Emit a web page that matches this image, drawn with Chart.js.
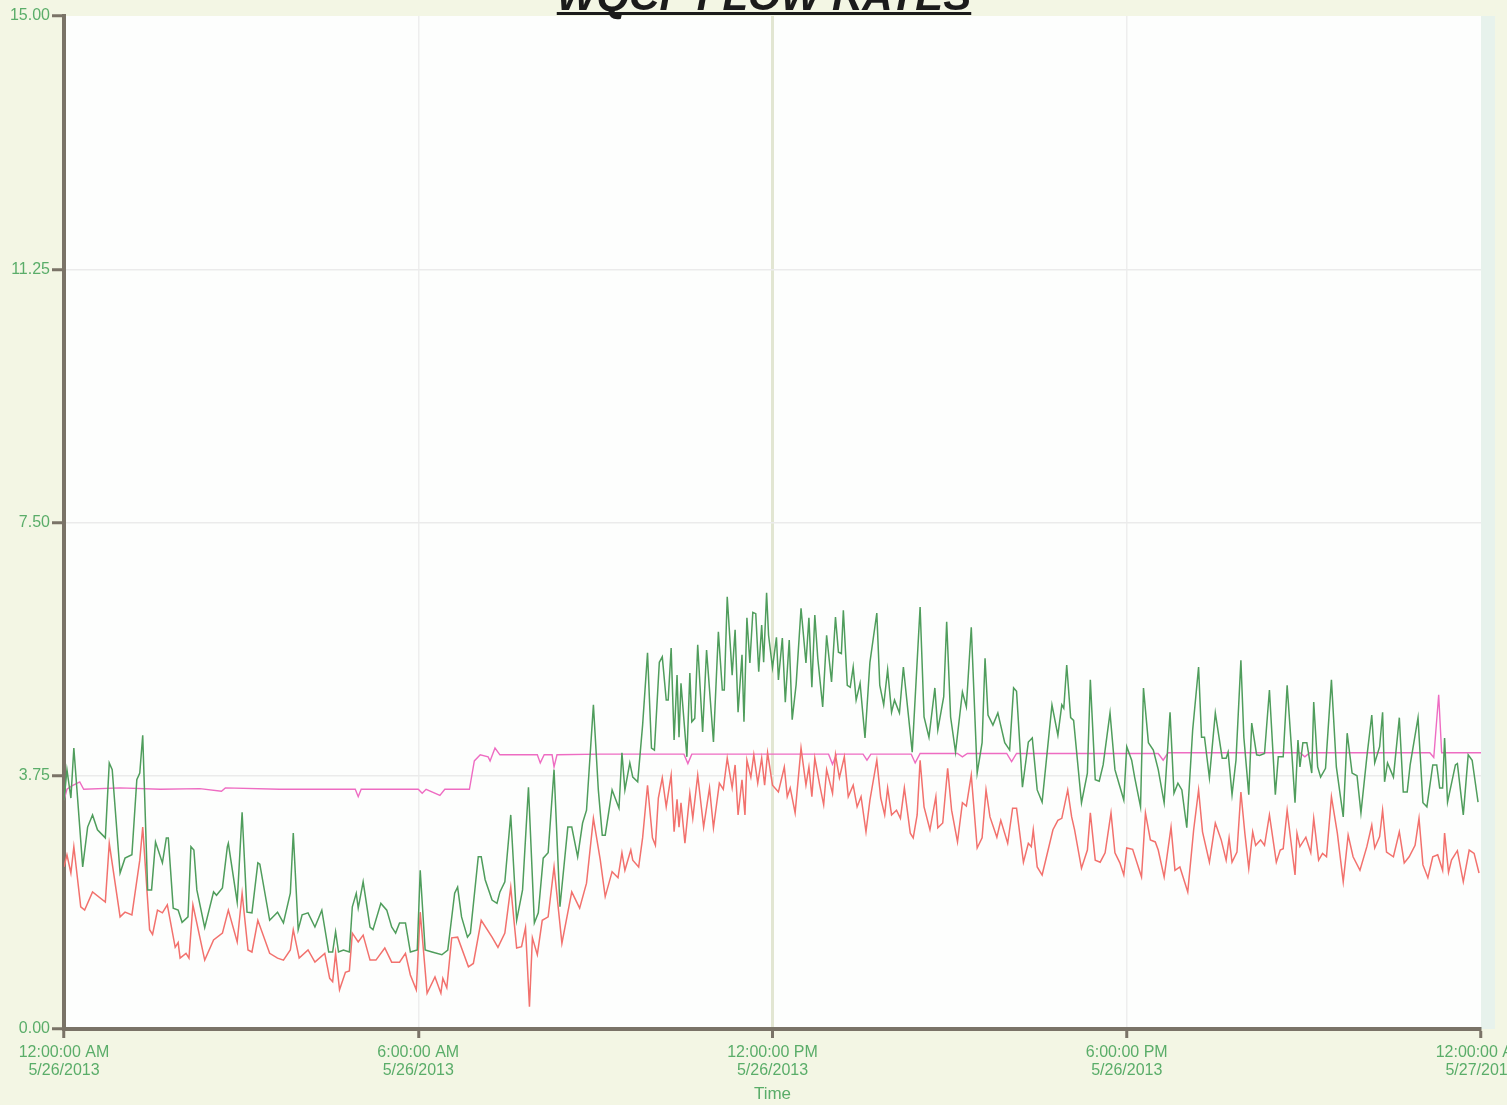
<!DOCTYPE html>
<html>
<head>
<meta charset="utf-8">
<title>WQCF Flow Rates</title>
<script src="https://cdn.jsdelivr.net/npm/chart.js@4.4.1/dist/chart.umd.min.js"></script>
<style>
  html, body { margin: 0; padding: 0; background: #f3f6e4; }
  canvas { display: block; }
</style>
</head>
<body>
<canvas id="flowChart" width="1507" height="1105"></canvas>
<script>
// Chart text
const chartTitle = 'WQCF FLOW RATES';
const xAxisTitle = 'Time';
const xTickTimes = ['12:00:00 AM', '6:00:00 AM', '12:00:00 PM', '6:00:00 PM', '12:00:00 AM'];
const xTickDates = ['5/26/2013', '5/26/2013', '5/26/2013', '5/26/2013', '5/27/2013'];
const yMax = 15;
const yStep = 3.75;

// Green trace: minutes after midnight / flow
const greenMinutes = [
  0, 3, 7, 10, 19, 24, 29, 34, 42, 46,
  49, 57, 62, 69, 74, 77, 80, 85, 89, 93,
  100, 104, 106, 111, 116, 120, 126, 129, 132, 135,
  143, 152, 155, 161, 166, 167, 176, 181, 186, 191,
  197, 199, 209, 217, 223, 230, 233, 238, 242, 248,
  255, 262, 269, 273, 276, 279, 284, 290, 293, 297,
  299, 304, 311, 314, 322, 328, 333, 337, 341, 347,
  352, 359, 362, 367, 374, 384, 390, 397, 400, 404,
  410, 413, 421, 424, 428, 435, 440, 443, 448, 454,
  460, 466, 472, 478, 482, 487, 492, 498, 504, 512,
  516, 522, 527, 531, 538, 543, 547, 550, 557, 564,
  567, 570, 575, 578, 583, 588, 593, 597, 600, 605,
  608, 612, 614, 617, 620, 623, 625, 627, 633, 636,
  638, 641, 644, 649, 653, 660, 665, 669, 671, 674,
  679, 682, 685, 689, 691, 694, 697, 700, 703, 706,
  709, 711, 714, 716, 720, 724, 726, 730, 733, 737,
  740, 744, 749, 754, 757, 760, 763, 766, 771, 775,
  780, 784, 787, 790, 792, 796, 799, 802, 805, 809,
  814, 819, 826, 829, 833, 837, 841, 844, 849, 853,
  862, 870, 874, 879, 885, 888, 894, 897, 901, 906,
  913, 917, 922, 928, 933, 936, 939, 944, 949, 956,
  961, 965, 968, 974, 980, 984, 989, 994, 1004, 1010,
  1014, 1016, 1019, 1023, 1026, 1034, 1040, 1043, 1048, 1052,
  1056, 1063, 1068, 1072, 1077, 1080, 1085, 1088, 1094, 1097,
  1102, 1107, 1112, 1118, 1124, 1128, 1132, 1136, 1141, 1147,
  1153, 1156, 1159, 1164, 1170, 1177, 1181, 1183, 1187, 1191,
  1196, 1199, 1204, 1207, 1212, 1215, 1220, 1225, 1231, 1234,
  1239, 1243, 1248, 1251, 1254, 1256, 1259, 1263, 1268, 1270,
  1274, 1277, 1282, 1288, 1293, 1300, 1304, 1309, 1314, 1318,
  1324, 1329, 1332, 1337, 1340, 1342, 1345, 1351, 1357, 1361,
  1365, 1368, 1376, 1381, 1385, 1391, 1395, 1398, 1401, 1403,
  1406, 1414, 1416, 1422, 1427, 1431, 1437
];
const greenFlow = [
  3.39, 3.84, 3.42, 4.16, 2.40, 2.99, 3.17, 2.95, 2.83, 3.94,
  3.84, 2.31, 2.53, 2.58, 3.69, 3.79, 4.35, 2.06, 2.06, 2.77,
  2.46, 2.83, 2.83, 1.79, 1.76, 1.58, 1.66, 2.70, 2.65, 2.06,
  1.50, 2.03, 1.98, 2.09, 2.70, 2.75, 1.88, 3.21, 1.73, 1.72,
  2.46, 2.44, 1.61, 1.73, 1.57, 2.01, 2.90, 1.47, 1.69, 1.72,
  1.51, 1.76, 1.14, 1.14, 1.44, 1.14, 1.17, 1.14, 1.81, 2.01,
  1.79, 2.18, 1.51, 1.47, 1.86, 1.76, 1.51, 1.42, 1.57, 1.57,
  1.14, 1.17, 2.35, 1.17, 1.14, 1.10, 1.17, 2.01, 2.10, 1.66,
  1.36, 1.42, 2.55, 2.55, 2.21, 1.91, 1.86, 2.03, 2.18, 3.17,
  1.61, 2.06, 3.58, 1.57, 1.72, 2.53, 2.61, 3.84, 1.81, 2.99,
  2.99, 2.55, 3.05, 3.24, 4.80, 3.54, 2.87, 2.87, 3.54, 3.27,
  4.09, 3.54, 3.94, 3.73, 3.66, 4.50, 5.57, 4.16, 4.13, 5.43,
  5.51, 4.87, 4.87, 5.64, 4.28, 5.24, 4.32, 5.12, 4.03, 5.27,
  4.55, 4.60, 5.69, 4.40, 5.61, 4.25, 5.88, 5.02, 5.02, 6.40,
  5.24, 5.91, 4.69, 5.54, 4.55, 6.09, 5.42, 6.17, 6.15, 5.29,
  5.98, 5.43, 6.46, 5.83, 5.35, 5.80, 5.17, 5.79, 4.84, 5.76,
  4.58, 5.10, 6.23, 5.42, 6.09, 5.06, 6.13, 5.49, 4.77, 5.83,
  5.14, 6.10, 5.58, 5.56, 6.20, 5.09, 5.06, 5.36, 4.87, 5.12,
  4.31, 5.43, 6.16, 5.09, 4.80, 5.32, 4.69, 4.87, 4.68, 5.36,
  4.10, 6.25, 4.62, 4.32, 5.05, 4.43, 4.92, 6.03, 4.62, 4.10,
  4.99, 4.77, 5.95, 3.79, 4.24, 5.49, 4.65, 4.50, 4.68, 4.24,
  4.13, 5.05, 5.00, 3.58, 4.25, 4.31, 3.54, 3.36, 4.80, 4.35,
  4.80, 4.75, 5.39, 4.61, 4.57, 3.35, 3.79, 5.17, 3.69, 3.67,
  3.91, 4.68, 3.84, 3.64, 3.39, 4.18, 3.98, 3.73, 3.29, 5.05,
  4.24, 4.13, 3.84, 3.35, 4.69, 3.49, 3.64, 3.54, 2.98, 4.43,
  5.36, 4.32, 4.32, 3.72, 4.68, 4.01, 4.01, 4.10, 3.47, 3.98,
  5.46, 4.32, 3.47, 4.53, 4.06, 4.05, 4.08, 5.02, 3.47, 4.03,
  4.03, 5.09, 4.03, 3.35, 4.28, 3.88, 4.24, 4.24, 3.79, 4.84,
  3.88, 3.73, 3.86, 5.17, 3.88, 3.14, 4.38, 3.79, 3.75, 3.20,
  4.03, 4.65, 3.94, 4.18, 4.69, 3.66, 3.94, 3.73, 4.61, 3.51,
  3.51, 3.91, 4.61, 3.35, 3.29, 3.91, 3.91, 3.57, 3.57, 4.31,
  3.36, 3.91, 3.93, 3.17, 4.06, 3.98, 3.36
];

// Red trace
const redMinutes = [
  0, 3, 7, 10, 17, 21, 29, 42, 46, 57,
  62, 69, 77, 80, 87, 90, 95, 100, 105, 113,
  116, 118, 124, 127, 131, 143, 152, 161, 167, 176,
  181, 187, 191, 197, 209, 217, 223, 230, 233, 239,
  248, 255, 265, 270, 273, 276, 280, 286, 290, 293,
  299, 304, 311, 317, 326, 333, 341, 347, 352, 358,
  362, 369, 377, 383, 385, 389, 394, 400, 411, 416,
  424, 435, 441, 448, 454, 460, 465, 469, 473, 476,
  481, 486, 492, 498, 506, 516, 524, 531, 538, 545,
  550, 557, 563, 567, 570, 576, 578, 584, 588, 593,
  598, 601, 604, 608, 612, 617, 620, 623, 625, 627,
  631, 636, 639, 644, 650, 656, 660, 666, 670, 674,
  679, 682, 685, 689, 692, 694, 698, 701, 705, 709,
  712, 715, 720, 726, 732, 735, 738, 743, 749, 754,
  757, 760, 763, 768, 772, 775, 781, 784, 788, 793,
  797, 802, 806, 810, 815, 819, 826, 830, 834, 837,
  841, 846, 850, 854, 860, 863, 867, 870, 874, 880,
  886, 888, 893, 898, 902, 908, 913, 917, 922, 928,
  933, 937, 941, 948, 952, 959, 964, 968, 975, 980,
  983, 985, 989, 994, 1005, 1010, 1014, 1020, 1024, 1027,
  1034, 1040, 1043, 1048, 1053, 1058, 1064, 1068, 1073, 1077,
  1080, 1086, 1095, 1099, 1104, 1109, 1112, 1118, 1125, 1129,
  1134, 1142, 1148, 1153, 1157, 1164, 1170, 1176, 1181, 1184,
  1187, 1192, 1196, 1200, 1204, 1208, 1211, 1216, 1220, 1225,
  1232, 1236, 1239, 1243, 1251, 1253, 1256, 1262, 1267, 1270,
  1275, 1279, 1283, 1288, 1294, 1300, 1305, 1310, 1317, 1324,
  1329, 1332, 1337, 1340, 1344, 1351, 1357, 1362, 1367, 1373,
  1377, 1381, 1386, 1391, 1396, 1401, 1403, 1407, 1410, 1416,
  1422, 1428, 1433, 1438
];
const redFlow = [
  2.40, 2.58, 2.31, 2.70, 1.81, 1.76, 2.03, 1.88, 2.75, 1.66,
  1.73, 1.69, 2.50, 2.99, 1.47, 1.40, 1.76, 1.72, 1.84, 1.21,
  1.28, 1.05, 1.12, 1.05, 1.84, 1.02, 1.32, 1.42, 1.76, 1.29,
  2.01, 1.17, 1.14, 1.61, 1.12, 1.05, 1.02, 1.17, 1.47, 1.05,
  1.17, 0.99, 1.12, 0.75, 0.70, 1.12, 0.58, 0.84, 0.86, 1.42,
  1.29, 1.39, 1.02, 1.02, 1.20, 0.99, 0.99, 1.12, 0.80, 0.58,
  1.73, 0.53, 0.77, 0.53, 0.75, 0.61, 1.35, 1.36, 0.92, 0.97,
  1.61, 1.36, 1.21, 1.42, 2.10, 1.20, 1.22, 1.50, 0.33, 1.35,
  1.10, 1.61, 1.66, 2.40, 1.27, 2.03, 1.79, 2.16, 3.12, 2.50,
  1.96, 2.33, 2.24, 2.61, 2.35, 2.65, 2.50, 2.40, 2.83, 3.61,
  2.83, 2.72, 3.42, 3.72, 3.29, 3.76, 2.92, 3.40, 2.99, 3.35,
  2.75, 3.49, 3.12, 3.76, 2.99, 3.57, 2.98, 3.64, 3.55, 4.01,
  3.57, 3.91, 3.17, 3.69, 3.17, 3.98, 3.73, 4.06, 3.64, 4.01,
  3.61, 4.09, 3.61, 3.51, 3.88, 3.44, 3.57, 3.20, 4.16, 3.61,
  3.88, 3.44, 4.01, 3.61, 3.32, 3.84, 3.49, 4.06, 3.72, 4.03,
  3.44, 3.61, 3.29, 3.44, 2.92, 3.39, 3.98, 3.42, 3.17, 3.57,
  3.17, 3.24, 3.12, 3.57, 2.90, 2.83, 3.17, 3.98, 3.29, 2.95,
  3.44, 2.98, 3.05, 3.86, 3.24, 2.77, 3.35, 3.30, 3.76, 2.68,
  2.83, 3.54, 3.14, 2.84, 3.09, 2.75, 3.27, 3.27, 2.47, 2.75,
  2.70, 2.95, 2.40, 2.28, 2.95, 3.09, 3.12, 3.54, 3.14, 2.95,
  2.38, 2.65, 3.20, 2.50, 2.47, 2.61, 3.20, 2.61, 2.46, 2.28,
  2.68, 2.66, 2.25, 3.20, 2.80, 2.77, 2.65, 2.25, 2.99, 2.35,
  2.40, 2.03, 2.95, 3.54, 2.92, 2.47, 3.05, 2.80, 2.50, 2.83,
  2.47, 2.62, 3.51, 2.90, 2.38, 2.92, 2.72, 2.80, 2.72, 3.17,
  2.47, 2.65, 2.67, 3.24, 2.28, 2.90, 2.70, 2.84, 2.61, 3.12,
  2.50, 2.60, 2.55, 3.44, 2.90, 2.18, 2.87, 2.55, 2.35, 2.70,
  3.02, 2.68, 2.85, 3.24, 2.62, 2.55, 2.92, 2.46, 2.55, 2.72,
  3.12, 2.43, 2.24, 2.55, 2.58, 2.35, 2.90, 2.32, 2.50, 2.64,
  2.18, 2.65, 2.60, 2.31
];

// Magenta trace
const pinkMinutes = [
  0, 3, 8, 16, 20, 57, 98, 138, 160, 164,
  219, 296, 299, 302, 360, 364, 368, 382, 387, 412,
  417, 423, 431, 433, 438, 443, 481, 484, 488, 496,
  498, 501, 545, 630, 634, 638, 777, 781, 785, 812,
  816, 820, 861, 865, 870, 908, 913, 918, 958, 963,
  968, 1112, 1117, 1122, 1256, 1261, 1266, 1388, 1392, 1397,
  1400, 1440
];
const pinkFlow = [
  3.39, 3.55, 3.60, 3.66, 3.55, 3.57, 3.55, 3.56, 3.52, 3.57,
  3.55, 3.55, 3.44, 3.55, 3.55, 3.49, 3.55, 3.46, 3.55, 3.55,
  3.97, 4.06, 4.03, 3.97, 4.16, 4.06, 4.06, 3.94, 4.06, 4.06,
  3.88, 4.06, 4.07, 4.07, 3.93, 4.07, 4.07, 3.92, 4.07, 4.07,
  3.98, 4.07, 4.07, 3.94, 4.08, 4.08, 4.03, 4.08, 4.08, 3.96,
  4.08, 4.08, 3.98, 4.09, 4.09, 4.03, 4.09, 4.09, 4.02, 4.95,
  4.09, 4.09
];

const axisGray = '#7a7367';
const labelGreen = '#5aad69';
const labelFont = { family: '"Liberation Sans", Arial, sans-serif', size: 16, lineHeight: 1.1 };

function toPoints(minutes, values) {
  return minutes.map((m, i) => ({ x: m, y: values[i] }));
}

// Cream page, white plot area
const backgroundPlugin = {
  id: 'background',
  beforeDraw(chart) {
    const { ctx, chartArea: a } = chart;
    ctx.save();
    ctx.fillStyle = '#f3f6e4';
    ctx.fillRect(0, 0, chart.width, chart.height);
    ctx.fillStyle = '#fdfefd';
    ctx.fillRect(a.left, a.top, a.right - a.left, a.bottom - a.top);
    ctx.fillStyle = '#e7f2ec';
    ctx.fillRect(a.right, a.top, 14, a.bottom - a.top);
    ctx.restore();
  }
};

// Title runs off the top edge, underlined
const titlePlugin = {
  id: 'cutTitle',
  afterDraw(chart) {
    const ctx = chart.ctx;
    ctx.save();
    ctx.font = 'italic bold 42px "Liberation Sans", Arial, sans-serif';
    ctx.textAlign = 'center';
    ctx.textBaseline = 'alphabetic';
    ctx.fillStyle = '#1b1b1b';
    ctx.fillText(chartTitle, 764, 10);
    const w = ctx.measureText(chartTitle).width;
    ctx.fillRect(764 - w / 2, 12, w, 3);
    ctx.restore();
  }
};

document.addEventListener('DOMContentLoaded', () => {
  const ctx = document.getElementById('flowChart').getContext('2d');

  new Chart(ctx, {
    type: 'line',
    data: {
      datasets: [
        {
          label: 'Flow 1',
          data: toPoints(greenMinutes, greenFlow),
          borderColor: '#4f9d5c',
          borderWidth: 1.5,
          pointRadius: 0,
          tension: 0
        },
        {
          label: 'Flow 2',
          data: toPoints(redMinutes, redFlow),
          borderColor: '#f2716d',
          borderWidth: 1.5,
          pointRadius: 0,
          tension: 0
        },
        {
          label: 'Flow 3',
          data: toPoints(pinkMinutes, pinkFlow),
          borderColor: '#ee6cc2',
          borderWidth: 1.4,
          pointRadius: 0,
          tension: 0
        }
      ]
    },
    options: {
      responsive: false,
      animation: false,
      layout: { padding: { top: 16, right: 26, left: 0, bottom: 0 } },
      plugins: {
        legend: { display: false },
        tooltip: { enabled: false }
      },
      scales: {
        x: {
          type: 'linear',
          min: 0,
          max: 1440,
          afterFit(scale) {
            scale.height = 76;
            scale.paddingLeft = 0;
            scale.paddingRight = 0;
          },
          border: { color: axisGray, width: 4 },
          grid: {
            color: c => c.tick.value === 720 ? '#e2e6d2' : (c.tick.value === 360 || c.tick.value === 1080 ? '#eeeeee' : 'rgba(0,0,0,0)'),
            lineWidth: c => c.tick.value === 720 ? 3 : 1.5,
            tickColor: axisGray,
            tickWidth: 3,
            tickLength: 9
          },
          ticks: {
            stepSize: 360,
            maxRotation: 0,
            autoSkip: false,
            padding: 6,
            color: labelGreen,
            font: labelFont,
            callback: (value, i) => [xTickTimes[i], xTickDates[i]]
          },
          title: {
            display: true,
            text: xAxisTitle,
            color: labelGreen,
            font: { family: labelFont.family, size: 17 },
            padding: { top: 0, bottom: 0 }
          }
        },
        y: {
          min: 0,
          max: yMax,
          afterFit(scale) {
            scale.width = 64;
            scale.paddingTop = 0;
            scale.paddingBottom = 0;
          },
          border: { color: axisGray, width: 4 },
          grid: {
            color: c => (c.tick.value > 0 && c.tick.value < yMax) ? '#ebebeb' : 'rgba(0,0,0,0)',
            lineWidth: 1.5,
            tickColor: axisGray,
            tickWidth: 3,
            tickLength: 12
          },
          ticks: {
            stepSize: yStep,
            padding: 2,
            color: labelGreen,
            font: labelFont,
            callback: value => value.toFixed(2)
          }
        }
      }
    },
    plugins: [backgroundPlugin, titlePlugin]
  });
});
</script>
</body>
</html>
